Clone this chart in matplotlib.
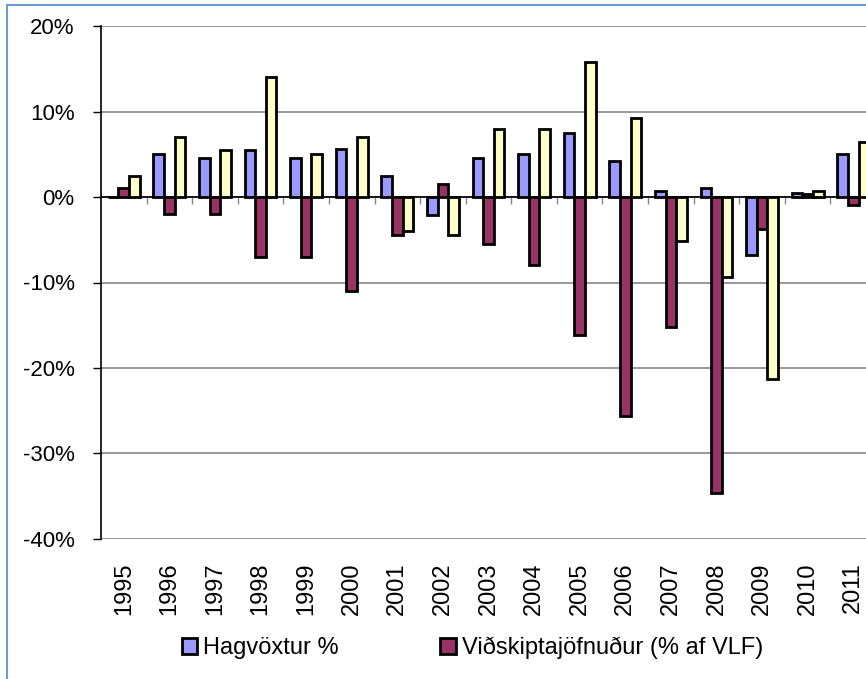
import matplotlib

matplotlib.use("Agg")

import matplotlib.pyplot as plt  # noqa: E402
from matplotlib.patches import Patch, Rectangle  # noqa: E402
from matplotlib.ticker import PercentFormatter  # noqa: E402

plt.rcParams["font.family"] = ["Liberation Sans", "DejaVu Sans"]
plt.rcParams["axes.unicode_minus"] = False

years = ["1995", "1996", "1997", "1998", "1999", "2000", "2001", "2002", "2003",
         "2004", "2005", "2006", "2007", "2008", "2009", "2010", "2011"]

# Hagvöxtur % (GDP growth)
gdp_growth = [0.0, 5.0, 4.6, 5.5, 4.6, 5.6, 2.5, -2.1, 4.6,
              5.0, 7.5, 4.2, 0.7, 1.0, -6.8, 0.5, 5.0]
# Viðskiptajöfnuður (% af VLF) (current account)
current_account = [1.0, -2.0, -2.0, -7.0, -7.0, -11.0, -4.5, 1.5, -5.5,
                   -8.0, -16.1, -25.6, -15.2, -34.6, -3.8, 0.4, -0.9]
# third series, its legend entry is cut off in the original
domestic_demand = [2.5, 7.0, 5.5, 14.0, 5.0, 7.0, -4.0, -4.5, 8.0,
                   8.0, 15.75, 9.2, -5.2, -9.3, -21.3, 0.7, 6.4]

series = [
    ("Hagvöxtur %", gdp_growth, "#9999FF"),
    ("Viðskiptajöfnuður (% af VLF)", current_account, "#993366"),
    ("Þjóðarútgjöld %", domestic_demand, "#FFFFCC"),
]

W, H = 866, 679
fig = plt.figure(figsize=(W / 100, H / 100), dpi=100)

# plot area runs past the right edge, like the cropped original
left, right, top, bottom = 101, 876, 26, 539
ax = fig.add_axes([left / W, 1 - bottom / H, (right - left) / W, (bottom - top) / H])

bar_w = 0.2325
centers = [i + 0.5 for i in range(len(years))]

for k, (label, values, color) in enumerate(series):
    xs = [c + (k - 1) * bar_w for c in centers]
    ax.bar(xs, [v / 100 for v in values], width=bar_w, color=color,
           edgecolor="black", linewidth=2, zorder=3, label=label)

ax.set_xlim(0, len(years))
ax.set_ylim(-0.40, 0.20)
ax.set_yticks([0.2, 0.1, 0.0, -0.1, -0.2, -0.3, -0.4])
ax.yaxis.set_major_formatter(PercentFormatter(1.0, decimals=0))
ax.tick_params(axis="y", length=6, width=1, color="black", pad=13, labelsize=16)
ax.grid(axis="y", color="#868686", linewidth=1.2, zorder=0)
ax.set_axisbelow(True)
ax.axhline(0, color="black", linewidth=1.2, zorder=2.5)

ax.set_xticks(centers)
ax.set_xticklabels(years, rotation=90, fontsize=17)
ax.tick_params(axis="x", length=0, pad=17)

for side in ["top", "right", "bottom"]:
    ax.spines[side].set_visible(False)
ax.spines["left"].set_color("black")
ax.spines["left"].set_linewidth(1.2)
ax.spines["left"].set_zorder(4)

# category tick marks hanging from the zero line
zero_axis = ax.secondary_xaxis(2 / 3)
zero_axis.xaxis.set_ticks_position("bottom")
zero_axis.set_xticks(range(1, len(years)))
zero_axis.set_xticklabels([])
zero_axis.tick_params(direction="out", length=5, color="#868686", width=1)
for side in ["top", "bottom"]:
    zero_axis.spines[side].set_visible(False)

handles = [Patch(facecolor=c, edgecolor="black", linewidth=2, label=l)
           for l, _, c in series[:2]]
fig.legend(handles=handles, loc="center left",
           bbox_to_anchor=(182 / W, 1 - 648 / H), ncol=2, frameon=False,
           fontsize=17, borderpad=0, borderaxespad=0, handlelength=0.65,
           handleheight=0.65, handletextpad=0.25, columnspacing=4.3)

# chart area border (cut off at right and bottom)
fig.patches.append(Rectangle((6.5 / W, -0.1), 2.0, 1 - 5.5 / H + 0.1,
                             transform=fig.transFigure, fill=False,
                             edgecolor="#6F9BD1", linewidth=1.5))

fig.savefig("out.png", dpi=100)
